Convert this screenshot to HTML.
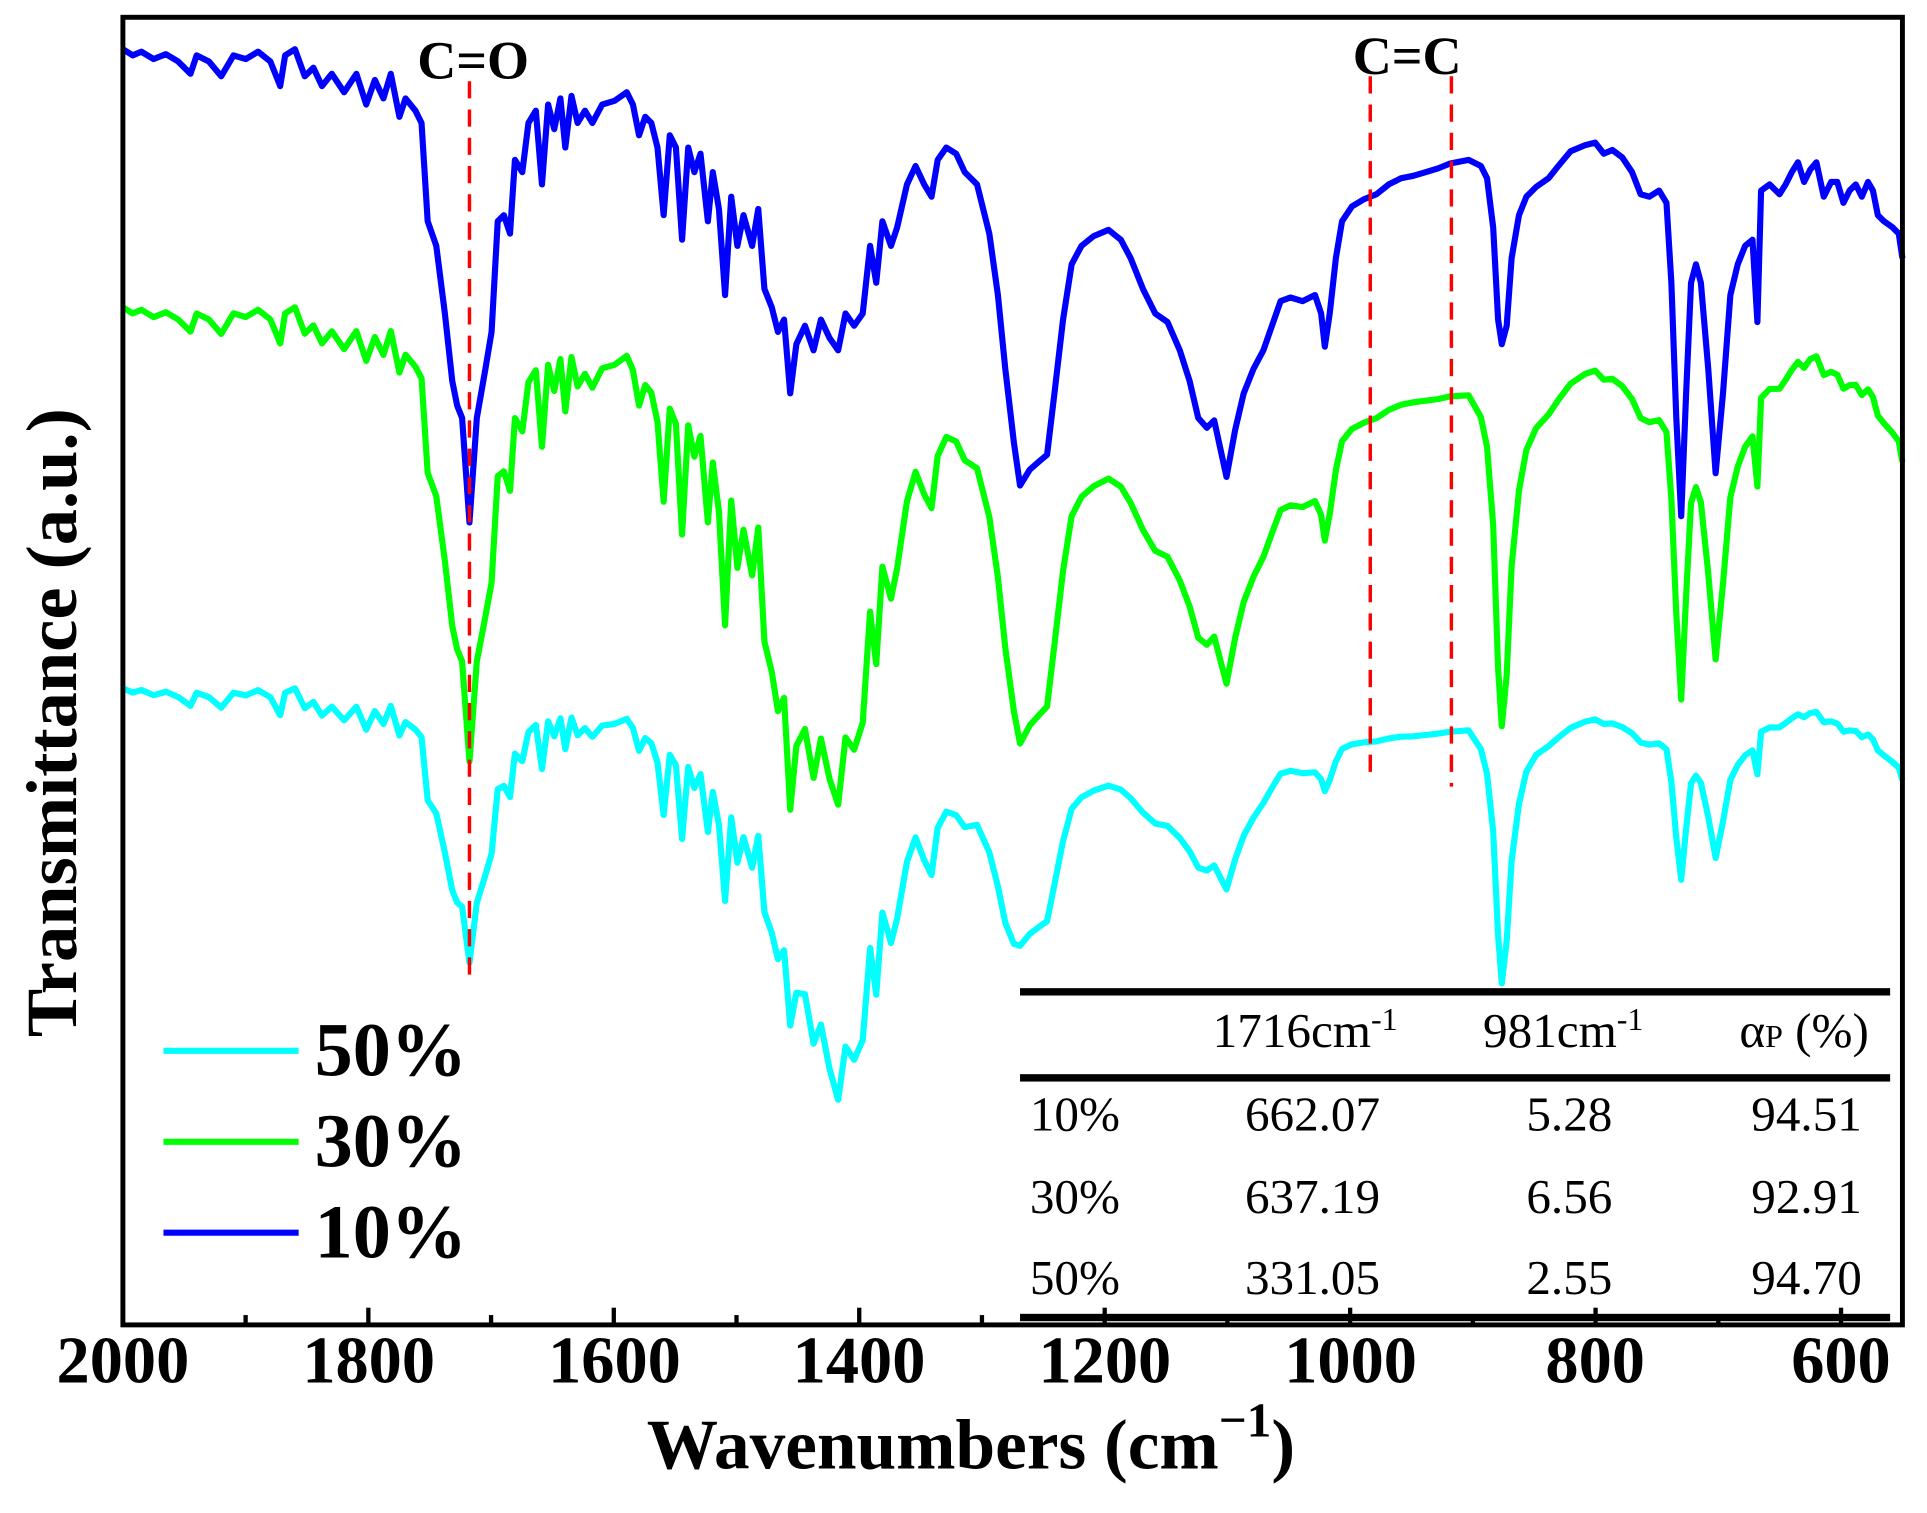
<!DOCTYPE html>
<html><head><meta charset="utf-8"><style>
html,body{margin:0;padding:0;background:#fff;width:1927px;height:1513px;overflow:hidden}
svg{display:block}
text{font-family:"Liberation Serif",serif}
</style></head><body>
<svg id="s" width="1927" height="1513" viewBox="0 0 1568 1231" xmlns="http://www.w3.org/2000/svg">
<g id="curves" fill="none" stroke-width="5" stroke-linejoin="round"></g>
<g stroke="#f00" stroke-width="2.8" stroke-dasharray="14,9">
<line x1="382" y1="66" x2="382" y2="802"/>
<line x1="1115" y1="62" x2="1115" y2="636"/>
<line x1="1181" y1="62" x2="1181" y2="640"/>
</g>
<text x="385" y="64" font-size="44" font-weight="bold" text-anchor="middle">C=O</text>
<text x="1145" y="60" font-size="44" font-weight="bold" text-anchor="middle">C=C</text>
<rect x="100" y="14" width="1448" height="1064" fill="none" stroke="#000" stroke-width="4"/>
<g id="ticks" stroke="#000" stroke-width="3.5"></g>
<g font-size="54" font-weight="bold" text-anchor="middle">
<text x="100" y="1125">2000</text><text x="300" y="1125">1800</text><text x="500" y="1125">1600</text>
<text x="699" y="1125">1400</text><text x="899" y="1125">1200</text><text x="1099" y="1125">1000</text>
<text x="1298" y="1125">800</text><text x="1498" y="1125">600</text>
</g>
<text x="790" y="1195" font-size="58" font-weight="bold" text-anchor="middle">Wavenumbers (cm<tspan dy="-26" font-size="40">&#8722;1</tspan><tspan dy="26">)</tspan></text>
<text transform="translate(62,588) rotate(-90)" font-size="59" font-weight="bold" text-anchor="middle">Transmittance (a.u.)</text>
<g stroke-width="5">
<line x1="133" y1="855" x2="243" y2="855" stroke="#00ffff"/>
<line x1="133" y1="929" x2="243" y2="929" stroke="#00ff00"/>
<line x1="133" y1="1003" x2="243" y2="1003" stroke="#0000ff"/>
</g>
<g font-size="62" font-weight="bold">
<text x="256" y="875">50%</text><text x="256" y="949">30%</text><text x="256" y="1023">10%</text>
</g>
<rect x="830" y="804" width="708" height="6" fill="#000"/>
<rect x="830" y="874" width="708" height="6" fill="#000"/>
<rect x="830" y="1069" width="708" height="6" fill="#000"/>
<g font-size="40" text-anchor="middle">
<text x="1062" y="852">1716cm<tspan dy="-14" font-size="26">-1</tspan></text>
<text x="1272" y="852">981cm<tspan dy="-14" font-size="26">-1</tspan></text>
<text x="1468" y="852">α<tspan font-size="26">P</tspan> (%)</text>
<text x="1068" y="920">662.07</text><text x="1277" y="920">5.28</text><text x="1470" y="920">94.51</text>
<text x="1068" y="987">637.19</text><text x="1277" y="987">6.56</text><text x="1470" y="987">92.91</text>
<text x="1068" y="1053">331.05</text><text x="1277" y="1053">2.55</text><text x="1470" y="1053">94.70</text>
</g>
<g font-size="40">
<text x="838" y="920">10%</text><text x="838" y="987">30%</text><text x="838" y="1053">50%</text>
</g>
</svg>
<script>
var NS="http://www.w3.org/2000/svg";
var B=[[100,40],[108,45],[115,42],[125,48],[135,44],[145,50],[155,60],[160,45],[170,50],[180,62],[190,45],[200,48],[210,42],[220,50],[228,70],[232,45],[240,40],[248,62],[255,55],[262,70],[270,60],[280,75],[290,60],[298,85],[305,65],[312,80],[318,60],[325,95],[330,80],[338,90],[343,100],[348,180],[355,200],[362,255],[368,310],[372,330],[376,340],[382,425],[388,340],[395,300],[400,270],[405,180],[410,175],[415,190],[419,130],[425,140],[430,100],[436,90],[441,150],[446,85],[451,105],[456,80],[460,120],[465,78],[470,100],[476,90],[482,100],[490,85],[500,82],[510,75],[515,85],[520,110],[525,95],[530,100],[535,120],[540,175],[545,110],[550,120],[555,195],[560,120],[565,140],[570,125],[576,180],[580,140],[585,170],[590,240],[595,160],[600,200],[605,175],[612,200],[617,170],[622,235],[628,250],[633,270],[638,260],[643,320],[648,280],[655,265],[662,285],[668,260],[675,275],[682,285],[688,255],[695,265],[702,255],[708,200],[713,230],[718,180],[725,200],[730,185],[738,150],[745,135],[752,150],[758,160],[763,130],[770,120],[778,125],[785,140],[795,150],[805,190],[812,240],[818,300],[825,360],[830,395],[838,382],[846,375],[852,370],[858,320],[865,260],[872,215],[880,200],[890,192],[902,187],[912,195],[920,210],[930,235],[940,255],[950,262],[960,285],[968,310],[975,340],[982,348],[988,342],[993,365],[998,388],[1005,350],[1012,320],[1020,300],[1028,285],[1035,265],[1042,245],[1050,242],[1060,245],[1070,240],[1075,255],[1078,282],[1082,255],[1087,210],[1092,180],[1100,168],[1110,162],[1120,158],[1130,150],[1140,145],[1150,143],[1160,140],[1170,137],[1180,133],[1195,130],[1205,135],[1210,145],[1215,185],[1219,260],[1222,280],[1226,265],[1230,210],[1236,175],[1242,160],[1250,152],[1260,145],[1268,135],[1278,123],[1290,118],[1298,116],[1305,125],[1312,122],[1320,128],[1328,140],[1335,158],[1342,160],[1350,155],[1356,165],[1360,230],[1364,340],[1368,420],[1372,320],[1376,230],[1380,215],[1384,230],[1390,300],[1396,385],[1402,320],[1408,240],[1414,215],[1420,200],[1426,195],[1430,262],[1433,155],[1440,150],[1448,158],[1453,150],[1458,140],[1463,132],[1468,148],[1473,138],[1478,132],[1484,160],[1490,148],[1495,148],[1500,165],[1505,155],[1510,150],[1515,160],[1520,148],[1524,155],[1528,175],[1533,180],[1540,185],[1545,190],[1548,210]];
function lerp(a,x){if(x<=a[0][0])return a[0][1];for(var i=1;i<a.length;i++){if(x<=a[i][0]){var t=(x-a[i-1][0])/(a[i][0]-a[i-1][0]);return a[i-1][1]+t*(a[i][1]-a[i-1][1]);}}return a[a.length-1][1];}
var SG=[[100,1],[360,0.96],[390,0.96],[560,1.2],[643,1.46],[680,1.66],[720,1.5],[775,1.3],[830,1.0],[998,0.88],[1045,0.8],[1150,0.75],[1200,0.8],[1222,1.42],[1245,0.9],[1295,0.67],[1368,0.84],[1397,0.83],[1475,0.42],[1548,0.74]];
var SC=[[100,0.7],[300,0.75],[382,0.58],[450,0.6],[560,0.8],[643,0.98],[680,1.37],[720,1.3],[775,1.25],[830,0.59],[998,0.47],[1045,0.33],[1150,0.38],[1200,0.38],[1222,1.0],[1245,0.5],[1295,0.33],[1368,0.41],[1397,0.4],[1475,0.2],[1548,0.44]];
function path(off,sc){return B.map(function(p,i){var y=sc?off+lerp(sc,p[0])*(p[1]-40):p[1];return (i?"L":"M")+p[0]+","+y.toFixed(1);}).join("");}
var g=document.getElementById("curves");
[["#00ffff",path(560,SC)],["#00ff00",path(250,SG)],["#0000ff",path(0,null)]].forEach(function(c){var e=document.createElementNS(NS,"path");e.setAttribute("d",c[1]);e.setAttribute("stroke",c[0]);g.appendChild(e);});
var t=document.getElementById("ticks");
for(var w=2000;w>=600;w-=100){var x=100+(2000-w)*0.9986;var l=document.createElementNS(NS,"line");l.setAttribute("x1",x);l.setAttribute("x2",x);l.setAttribute("y1",1078);l.setAttribute("y2",w%200==0?1064:1070);t.appendChild(l);}
</script>
</body></html>
